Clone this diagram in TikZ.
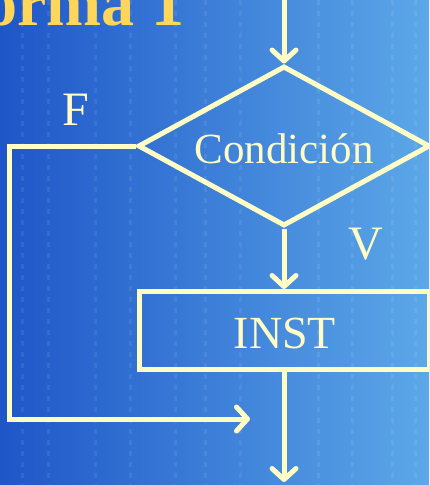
\documentclass[tikz,border=0pt]{standalone}
\usepackage{fontspec}
\setmainfont{Liberation Serif}
\usetikzlibrary{shapes.geometric,arrows.meta}
\definecolor{flow}{RGB}{255,252,196}
\definecolor{titlecol}{RGB}{255,214,90}
\definecolor{bgleft}{RGB}{30,86,200}
\definecolor{bgright}{RGB}{92,168,232}
\tikzset{
  flowline/.style={draw=flow, line width=5pt},
  flowarrow/.style={flowline, -{Straight Barb[length=11pt,width=24pt,round]}},
  decisionbox/.style={diamond, flowline, minimum width=292pt, minimum height=160pt, inner sep=0pt, aspect=1.8},
  instbox/.style={rectangle, flowline, minimum width=290pt, minimum height=78pt, inner sep=0pt},
  flowtext/.style={text=flow, font=\fontsize{43pt}{48pt}\selectfont},
  labeltext/.style={text=flow, font=\fontsize{48pt}{52pt}\selectfont, inner sep=0pt},
  streak/.style={white, opacity=0.08, line width=3pt, dash pattern=on 5pt off 6pt}
}
\begin{document}
\begin{tikzpicture}[x=1pt,y=-1pt]
\useasboundingbox (0,0) rectangle (429,485);
\clip (0,0) rectangle (429,485);
% background
\shade[left color=bgleft, right color=bgright] (0,0) rectangle (429,485);
\foreach \xx in {22,48,95,130,175,205,240,318,352,392,415}{
  \draw[streak] (\xx,0) -- (\xx,485);
}
% title
\node[anchor=base west, text=titlecol, inner sep=0pt, font=\fontsize{66pt}{70pt}\selectfont\bfseries] (title) at (-56,25) {Forma 1};
% flowchart
\node[decisionbox] (cond) at (284,146) {};
\node[flowtext] (condtext) at (284,149) {Condición};
\node[instbox] (inst) at (284,330.5) {};
\node[flowtext, font=\fontsize{46pt}{50pt}\selectfont] (insttext) at (285,333) {INST};
\coordinate (start) at (284,-5);
\coordinate (endpt) at (284,482);
\coordinate (fcorner1) at (9.5,146);
\coordinate (fcorner2) at (9.5,419);
\coordinate (join) at (250,419);
\draw[flowarrow] (start) -- (cond.north);
\draw[flowarrow] (cond.south) -- (inst.north);
\draw[flowarrow] (inst.south) -- (endpt);
\draw[flowarrow] (cond.west) -- (fcorner1) -- (fcorner2) -- (join);
% labels
\node[labeltext] (flabel) at (76,110) {F};
\node[labeltext] (vlabel) at (366,244) {V};
\end{tikzpicture}
\end{document}
